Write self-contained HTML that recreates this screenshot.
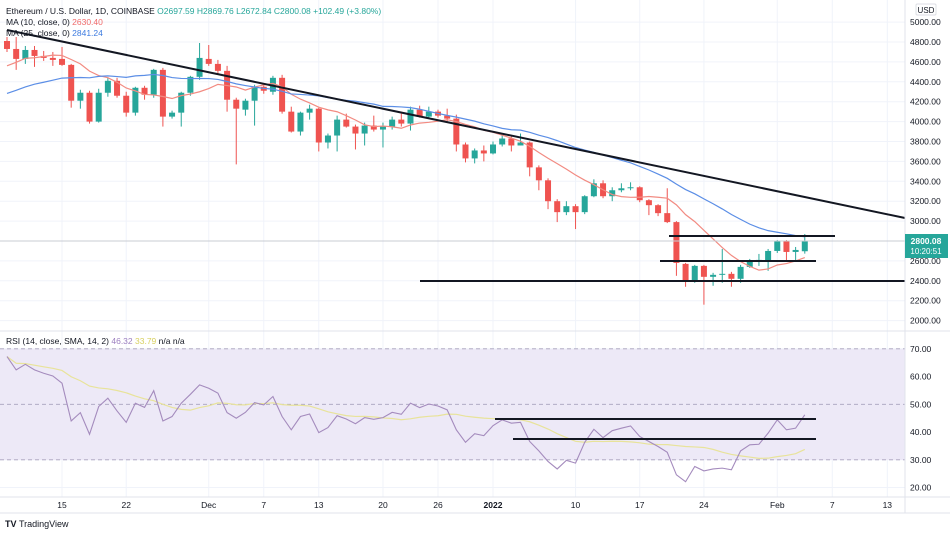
<!DOCTYPE html>
<html><head><meta charset="utf-8">
<style>
html,body{margin:0;padding:0;background:#fff;}
body{width:950px;height:533px;overflow:hidden;font-family:"Liberation Sans",sans-serif;}
svg text{font-family:"Liberation Sans",sans-serif;}
</style></head>
<body>
<svg id="chart" width="950" height="533" viewBox="0 0 950 533" xmlns="http://www.w3.org/2000/svg">
<g id="grid"></g>
<rect x="0" y="349" width="905" height="111" fill="#ede9f7"/>
<g id="rsi-guides"></g>
<g id="candles"></g>
<g id="mas"></g>
<g id="rsi"></g>
<g>
  <line x1="7" y1="30" x2="905" y2="218" stroke="#131722" stroke-width="2"/>
  <line x1="669" y1="236" x2="835" y2="236" stroke="#131722" stroke-width="2"/>
  <line x1="660" y1="261" x2="816" y2="261" stroke="#131722" stroke-width="2"/>
  <line x1="420" y1="281" x2="905" y2="281" stroke="#131722" stroke-width="2"/>
  <line x1="495" y1="419" x2="816" y2="419" stroke="#131722" stroke-width="2"/>
  <line x1="513" y1="439" x2="816" y2="439" stroke="#131722" stroke-width="2"/>
</g>
<line x1="0" y1="241" x2="905" y2="241" stroke="#c9ccd3" stroke-width="1"/>
<line x1="0" y1="331" x2="950" y2="331" stroke="#e0e3eb" stroke-width="1"/>
<line x1="905" y1="0" x2="905" y2="513" stroke="#e0e3eb" stroke-width="1"/>
<line x1="0" y1="497" x2="950" y2="497" stroke="#e0e3eb" stroke-width="1"/>
<line x1="0" y1="513" x2="950" y2="513" stroke="#e0e3eb" stroke-width="1"/>
<g id="yaxis"></g>
<g id="rsiaxis"></g>
<g id="xaxis"></g>
<rect x="916" y="4" width="20" height="11" fill="#fff" stroke="#d1d4dc" stroke-width="0.7" rx="1"/>
<text x="926" y="13" font-size="8" fill="#131722" text-anchor="middle">USD</text>
<g>
  <rect x="905" y="234" width="43" height="24" fill="#26a69a"/>
  <text x="926" y="244" font-size="8.5" fill="#fff" text-anchor="middle" font-weight="bold">2800.08</text>
  <text x="926" y="254" font-size="8" fill="#fff" text-anchor="middle">10:20:51</text>
</g>
<text x="6" y="14" font-size="8.5" fill="#131722">Ethereum / U.S. Dollar, 1D, COINBASE <tspan fill="#26a69a">O2697.59  H2869.76  L2672.84  C2800.08  +102.49 (+3.80%)</tspan></text>
<text x="6" y="25" font-size="8.5" fill="#131722">MA (10, close, 0) <tspan fill="#f06a6a">2630.40</tspan></text>
<text x="6" y="36" font-size="8.5" fill="#131722">MA (25, close, 0) <tspan fill="#3d7be0">2841.24</tspan></text>
<text x="6" y="344" font-size="8.5" fill="#131722">RSI (14, close, SMA, 14, 2) <tspan fill="#9c7fc0">46.32</tspan> <tspan fill="#d8d060">33.79</tspan> n/a  n/a</text>
<g>
  <text x="5" y="527" font-size="9" font-weight="bold" fill="#131722">TV</text>
  <text x="19" y="527" font-size="9" fill="#131722">TradingView</text>
</g>
</svg>
<script>
const opens  = [4810,4730,4630,4720,4660,4640,4630,4570,4210,4290,4000,4290,4410,4260,4090,4340,4270,4520,4050,4090,4290,4450,4630,4580,4510,4220,4120,4210,4350,4300,4440,4100,3900,4090,4130,3790,3860,4020,3950,3880,3960,3920,3950,4020,3980,4120,4050,4100,4060,4030,3770,3630,3710,3680,3770,3830,3760,3790,3540,3410,3200,3090,3150,3090,3250,3380,3250,3310,3330,3340,3210,3160,3080,2990,2570,2400,2550,2440,2460,2470,2420,2540,2600,2600,2700,2800,2690,2697];
const highs  = [4850,4850,4760,4760,4710,4700,4750,4580,4320,4310,4330,4440,4440,4300,4350,4360,4530,4540,4110,4300,4460,4790,4770,4620,4560,4240,4230,4370,4370,4460,4470,4150,4100,4170,4140,3880,4060,4080,3970,3990,4060,3990,4050,4080,4150,4160,4150,4120,4130,4070,3790,3730,3760,3800,3860,3850,3880,3800,3560,3430,3220,3200,3170,3260,3420,3410,3340,3380,3390,3350,3220,3170,3330,3000,2580,2560,2560,2480,2720,2490,2560,2620,2670,2720,2810,2810,2740,2870];
const lows   = [4700,4520,4580,4550,4610,4560,4560,4140,4130,3980,3990,4250,4240,4050,4060,4220,4240,3950,4030,3950,4260,4420,4560,4480,4100,3570,4060,3960,4280,4270,4080,3890,3860,4020,3700,3730,3700,3940,3720,3760,3900,3740,3920,3950,3910,4040,4030,4040,4000,3700,3590,3580,3600,3670,3750,3700,3760,3450,3310,3120,2990,3060,2920,3070,3240,3230,3200,3290,3310,3190,3060,3050,2980,2450,2340,2380,2160,2350,2380,2340,2380,2530,2550,2500,2680,2600,2600,2673];
const closes = [4730,4630,4720,4660,4640,4620,4570,4210,4290,4000,4290,4410,4260,4090,4340,4270,4520,4050,4090,4290,4450,4640,4580,4510,4220,4130,4210,4350,4310,4440,4100,3900,4090,4130,3790,3860,4020,3950,3880,3960,3920,3950,4020,3980,4120,4050,4100,4060,4030,3770,3630,3710,3680,3770,3830,3760,3790,3540,3410,3200,3090,3150,3090,3250,3380,3250,3310,3330,3340,3210,3160,3080,2990,2580,2400,2550,2440,2460,2470,2420,2540,2600,2610,2700,2800,2690,2710,2800];
const priorCloses = [3850,3870,3960,4150,4100,4050,4130,4220,4080,3930,4290,4420,4290,3970,4150,4280,4320,4600,4520,4480,4600,4620,4730,4730];
const rsiValues = [67.2,62.4,64.4,62.4,61.2,60.2,57.6,44,47,39.2,49.2,52.2,47.6,43.5,50.4,48.9,54.9,44,45.6,50.4,53.6,57,55.8,54,47,45,47.1,50.6,49.8,52.8,45.6,40.8,45.6,46.5,39.8,41.6,45.9,44.7,43,45.2,44.6,45.2,47.1,46.4,50.4,48.8,50.1,49.4,48,40.8,36.3,39.4,38.7,42.3,44.4,43.2,43.5,36.6,33.2,29.4,26.7,29.8,28.8,36.3,41,38,40.5,41.4,42.2,38.4,36.6,34.8,32.7,24.6,22.1,27.6,26,26.7,27,26.4,33.2,35.4,35.6,39.6,44.4,40.8,41.4,46.2];
const priceTicks = [5000,4800,4600,4400,4200,4000,3800,3600,3400,3200,3000,2600,2400,2200,2000];
const rsiTicks = [70,60,50,40,30,20];
const dateLabels = ["15","22","Dec","7","13","20","26","2022","10","17","24","Feb","7","13"];
const dateIndex  = [6,13,22,28,34,41,47,53,62,69,76,84,90,96];

const NS="http://www.w3.org/2000/svg";
function el(tag,attrs,parent){const e=document.createElementNS(NS,tag);for(const k in attrs)e.setAttribute(k,attrs[k]);parent.appendChild(e);return e;}
const xOf = i => 7 + i*9.17;
const yP = p => 42 + (4800-p)*0.0995;
const yR = v => 404.3 - (v-50)*2.775;

const grid=document.getElementById('grid');
priceTicks.forEach(p=>{const l=el('line',{x1:0,x2:905,y1:yP(p),y2:yP(p),stroke:'#f0f3fa'},grid);

});
rsiTicks.forEach(v=>{const l=el('line',{x1:0,x2:905,y1:yR(v),y2:yR(v),stroke:'#f0f3fa'},grid);

});
dateIndex.forEach(i=>{const l=el('line',{x1:xOf(i),x2:xOf(i),y1:0,y2:497,stroke:'#f0f3fa'},grid);

});

const rg=document.getElementById('rsi-guides');
[70,50,30].forEach(v=>{const l=el('line',{x1:0,x2:905,y1:yR(v),y2:yR(v),stroke:'#a8a2bd','stroke-dasharray':'4,3','stroke-width':0.8},rg);

});

const cg=document.getElementById('candles');
closes.forEach((c,i)=>{
  const o=opens[i],up=c>=o,col=up?'#26a69a':'#ef5350',x=xOf(i);
  const g=el('g',{},cg);
  
  
  el('line',{x1:x,x2:x,y1:yP(highs[i]),y2:yP(lows[i]),stroke:col,'stroke-width':1},g);
  const t=yP(Math.max(o,c)),b=yP(Math.min(o,c));
  el('rect',{x:x-3,y:t,width:6,height:Math.max(1,b-t),fill:col},g);
});

function sma(all,n,offset){const out=[];for(let i=0;i<closes.length;i++){const j=i+offset;let s=0,k=0;for(let m=Math.max(0,j-n+1);m<=j;m++){s+=all[m];k++;}out.push(s/k);}return out;}
const allC=priorCloses.concat(closes);
const ma10=sma(allC,10,priorCloses.length), ma25=sma(allC,25,priorCloses.length);
const mg=document.getElementById('mas');
const m1=el('polyline',{points:ma10.map((v,i)=>xOf(i)+','+yP(v)).join(' '),fill:'none',stroke:'#f28b82','stroke-width':1.2},mg);


const m2=el('polyline',{points:ma25.map((v,i)=>xOf(i)+','+yP(v)).join(' '),fill:'none',stroke:'#5b8ee6','stroke-width':1.2},mg);



const rsiMa=rsiValues.map((v,i)=>{let s=0,k=0;for(let m=Math.max(0,i-13);m<=i;m++){s+=rsiValues[m];k++;}return s/k;});
const rsg=document.getElementById('rsi');
const r2=el('polyline',{points:rsiMa.map((v,i)=>xOf(i)+','+yR(v)).join(' '),fill:'none',stroke:'#e8e39a','stroke-width':1.2},rsg);


const r1=el('polyline',{points:rsiValues.map((v,i)=>xOf(i)+','+yR(v)).join(' '),fill:'none',stroke:'#a48bbd','stroke-width':1.1},rsg);



const ya=document.getElementById('yaxis');
priceTicks.forEach(p=>{const t=el('text',{x:910,y:yP(p)+3,'font-size':8.5,fill:'#131722'},ya);t.textContent=p.toFixed(2);

});
const ra=document.getElementById('rsiaxis');
rsiTicks.forEach(v=>{const t=el('text',{x:910,y:yR(v)+3,'font-size':8.5,fill:'#131722'},ra);t.textContent=v.toFixed(2);

});
const xa=document.getElementById('xaxis');
dateLabels.forEach((d,k)=>{const t=el('text',{x:xOf(dateIndex[k]),y:508,'font-size':8.5,fill:'#131722','text-anchor':'middle','font-weight':d==='2022'?'bold':'normal'},xa);t.textContent=d;

});
</script>
</body></html>
